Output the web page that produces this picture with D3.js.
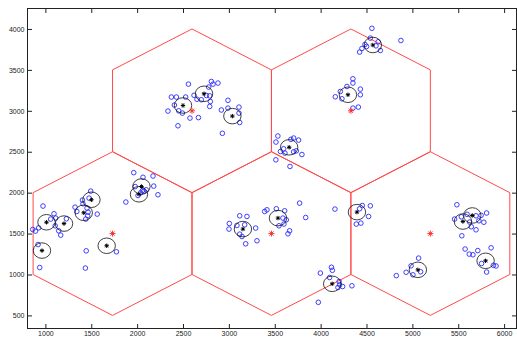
<!DOCTYPE html>
<html>
<head>
<meta charset="utf-8">
<script src="https://cdnjs.cloudflare.com/ajax/libs/d3/7.8.5/d3.min.js"></script>
<style>
  body { margin: 0; background: #fff; }
  .tick text { font-family: "Liberation Sans", Arial, sans-serif; font-size: 7px; fill: #222; }
</style>
</head>
<body>
<script>

// hexagonal cells, users and cluster centres

var hexX = [1732, 2598, 3464, 4330, 5196];
var hexY = [1500, 3000, 1500, 3000, 1500];
var hexRadius = 1000;

var xTicks = [1000, 1500, 2000, 2500, 3000, 3500, 4000, 4500, 5000, 5500, 6000];
var yTicks = [500, 1000, 1500, 2000, 2500, 3000, 3500, 4000];

var users = [
  [862,1550],[892,1530],[927,1570],[974,1836],[1058,1677],[1094,1742],[1113,1689],[1107,1595],
  [1145,1534],[1167,1481],[1229,1680],[920,1366],[938,1085],[1323,1823],[1342,1770],[1404,1909],
  [1410,1864],[1454,1811],[1465,1762],[1461,1717],[1440,1677],[1476,1933],[1494,2019],[1565,1738],
  [1445,1289],[1436,1078],[1774,1277],[1877,1885],
  [1963,2244],[2064,2188],[2173,2203],[1979,2074],[2072,2017],[2181,2080],[2010,1965],[2057,2023],
  [2227,1974],[2099,2035],[2039,1998],
  [2559,3326],[2373,3168],[2428,3168],[2406,3070],[2336,2997],[2453,3000],[2529,3168],[2576,2911],
  [2668,2917],[2445,2817],[2493,2972],[2620,3190],[2652,3141],[2700,3135],[2755,3187],[2780,3290],
  [2809,3358],[2827,3326],[2881,3339],[2791,3183],[2798,3114],[2791,3053],[2990,3128],[2918,3010],
  [2990,3033],[3110,3045],[3110,2972],[3118,2857],[2929,2725],
  [4559,4008],[4542,3888],[4483,3810],[4450,3761],[4425,3717],[4501,3786],[4603,3794],[4651,3737],
  [4627,3843],[4875,3859],
  [4352,3391],[4352,3339],[4287,3297],[4215,3236],[4160,3171],[4232,3147],[4433,3265],[4433,3196],
  [4352,3033],[4411,3045],
  [3534,2692],[3513,2618],[3676,2651],[3706,2667],[3760,2642],[3562,2503],[3611,2483],[3706,2499],
  [3735,2511],[3796,2466],[3512,2401],[3666,2320],[3597,2536],
  [3005,1623],[3001,1555],[3088,1599],[3118,1717],[3197,1709],[3172,1607],[3118,1493],[3143,1464],
  [3292,1567],[3183,1375],[3306,1412],[3390,1770],[3415,1790],[3517,1803],[3608,1778],[3589,1689],
  [3626,1668],[3600,1616],[3546,1595],[3662,1534],[3644,1497],[3771,1872],[3837,1696],
  [4156,1799],[4425,1803],[4454,1843],[4542,1839],[4523,1709],[4389,1616],[4439,1628],
  [3997,1017],[4118,1088],[4128,1051],[4098,963],[4202,914],[4207,874],[4189,841],[4240,853],
  [4341,862],[3975,660],
  [5485,1852],[5460,1677],[5534,1705],[5596,1735],[5749,1723],[5809,1751],[5779,1638],[5725,1656],
  [5624,1640],[5642,1583],[5694,1546],[5539,1473],[5575,1311],[5620,1249],[5660,1241],[5713,1292],
  [5858,1326],[5754,1134],[5883,1112],[5912,1104],[5809,1030],[5068,1200],[4986,1106],[4932,1027],
  [5006,996],[5090,1033],[4825,986],[5694,1717]
];

var centres = [
  [1012,1638],[1203,1622],[1418,1754],[1502,1913],[963,1292],[1668,1351],[2047,2075],[2020,1980],
  [2500,3065],[2729,3208],[3038,2935],[4569,3804],[4298,3196],[3657,2554],[3153,1555],[3535,1689],
  [4396,1762],[4126,886],[5551,1647],[5653,1721],[5798,1167],[5060,1057]
];
var centreRadius = 95;

var width = 517;
var height = 339;

var svg = d3.select("body")
  .append("svg")
  .attr("width", width)
  .attr("height", height);

var x = d3.scaleLinear()
  .domain([805, 6135])
  .range([27.5, 516.5]);

var y = d3.scaleLinear()
  .domain([340, 4250])
  .range([328.5, 8.5]);

var fmt = d3.format("d");

// axes, ticks pointing inwards like matlab
svg.append("g")
  .attr("transform", "translate(0," + y.range()[0] + ")")
  .call(d3.axisBottom(x).tickValues(xTicks).tickFormat(fmt).tickSize(-4.5).tickPadding(2.5))
  .call(function(g) { g.select(".domain").remove(); });

svg.append("g")
  .attr("transform", "translate(0," + y.range()[1] + ")")
  .call(d3.axisTop(x).tickValues(xTicks).tickSize(-4.5).tickFormat(""))
  .call(function(g) { g.select(".domain").remove(); });

svg.append("g")
  .attr("transform", "translate(" + x.range()[0] + ",0)")
  .call(d3.axisLeft(y).tickValues(yTicks).tickFormat(fmt).tickSize(-4.5).tickPadding(3))
  .call(function(g) { g.select(".domain").remove(); });

svg.append("g")
  .attr("transform", "translate(" + x.range()[1] + ",0)")
  .call(d3.axisRight(y).tickValues(yTicks).tickSize(-4.5).tickFormat(""))
  .call(function(g) { g.select(".domain").remove(); });

svg.selectAll(".tick line").attr("stroke", "#222");

var plot = svg.append("g");

// hexagons
var hexLine = d3.line()
  .x(function(d) { return x(d[0]); })
  .y(function(d) { return y(d[1]); });

hexX.forEach(function(cx, i) {
  var cy = hexY[i];
  var pts = [];
  for (var k = 0; k <= 6; k++) {
    var a = Math.PI / 2 + k * Math.PI / 3;
    pts.push([cx + hexRadius * Math.cos(a), cy + hexRadius * Math.sin(a)]);
  }
  plot.append("path")
    .attr("d", hexLine(pts))
    .attr("fill", "none")
    .attr("stroke", "#ff4a4a")
    .attr("stroke-width", 1);
});

// users
plot.selectAll(".user")
  .data(users)
  .enter()
  .append("circle")
  .attr("class", "user")
  .attr("cx", function(d) { return x(d[0]); })
  .attr("cy", function(d) { return y(d[1]); })
  .attr("r", 2.3)
  .attr("fill", "none")
  .attr("stroke", "#2a2aff")
  .attr("stroke-width", 0.9);

// cluster circles
plot.selectAll(".ring")
  .data(centres)
  .enter()
  .append("ellipse")
  .attr("class", "ring")
  .attr("cx", function(d) { return x(d[0]); })
  .attr("cy", function(d) { return y(d[1]); })
  .attr("rx", x(centreRadius) - x(0))
  .attr("ry", y(0) - y(centreRadius))
  .attr("fill", "none")
  .attr("stroke", "#111")
  .attr("stroke-width", 0.8);

function star(g, px, py, s, col, w) {
  var d = "M" + (px - s) + "," + py + "h" + (2 * s) +
    "M" + px + "," + (py - s) + "v" + (2 * s) +
    "M" + (px - s * 0.7) + "," + (py - s * 0.7) + "l" + (1.4 * s) + "," + (1.4 * s) +
    "M" + (px - s * 0.7) + "," + (py + s * 0.7) + "l" + (1.4 * s) + "," + (-1.4 * s);
  g.append("path")
    .attr("d", d)
    .attr("stroke", col)
    .attr("stroke-width", w)
    .attr("fill", "none");
}

centres.forEach(function(d) {
  star(plot, x(d[0]), y(d[1]), 2.2, "#000", 1);
});

hexX.forEach(function(cx, i) {
  star(plot, x(cx), y(hexY[i]), 3, "#ff2020", 0.9);
});

// frame
svg.append("rect")
  .attr("x", x.range()[0])
  .attr("y", y.range()[1])
  .attr("width", x.range()[1] - x.range()[0])
  .attr("height", y.range()[0] - y.range()[1])
  .attr("fill", "none")
  .attr("stroke", "#222")
  .attr("stroke-width", 1);

</script>
</body>
</html>
